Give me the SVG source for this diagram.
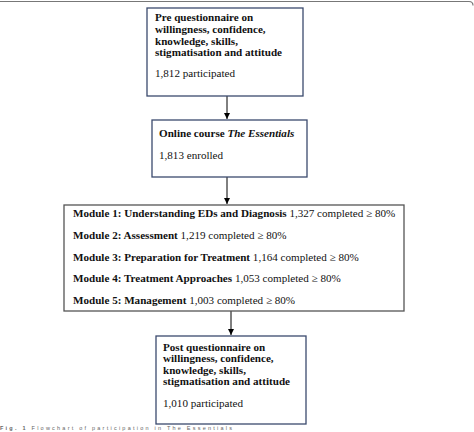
<svg xmlns="http://www.w3.org/2000/svg" width="474" height="432" viewBox="0 0 474 432">
<style>
.t{font-family:"Liberation Serif","Times New Roman",serif;font-size:11.1px;fill:#111}
.b{font-weight:bold}
.box{fill:#fff;stroke:#3b4a6e;stroke-width:1.3}
.box3{fill:#fff;stroke:#555;stroke-width:1.3}
.con{stroke:#000;stroke-width:1;fill:none}
.cap{font-family:"Liberation Sans",Arial,sans-serif;font-size:5.5px;fill:#666}
</style>
<defs>
<marker id="ah" viewBox="0 0 8 8" refX="8" refY="4" markerWidth="6" markerHeight="6" orient="auto" markerUnits="userSpaceOnUse">
<path d="M0,0 L8,4 L0,8 Z" fill="#000"/>
</marker>
</defs>
<path d="M0,1.5 H469 Q473,1.5 473,5.5" fill="none" stroke="#777" stroke-width="1.2"/>
<g id="connectors">
<line class="con" x1="227" y1="96" x2="227" y2="119" marker-end="url(#ah)"/>
<line class="con" x1="227" y1="177" x2="227" y2="204" marker-end="url(#ah)"/>
<line class="con" x1="231" y1="311" x2="231" y2="335" marker-end="url(#ah)"/>
</g>
<g id="pre">
<rect class="box" x="147" y="8" width="156" height="88"/>
<text class="t b" x="155" y="21">Pre questionnaire on</text>
<text class="t b" x="155" y="33">willingness, confidence,</text>
<text class="t b" x="155" y="44.5">knowledge, skills,</text>
<text class="t b" x="155" y="56">stigmatisation and attitude</text>
<text class="t" x="155" y="77">1,812 participated</text>
</g>
<g id="course">
<rect class="box" x="152" y="120" width="155" height="57"/>
<text class="t" x="159" y="137"><tspan class="b">Online course </tspan><tspan class="b" font-style="italic">The Essentials</tspan></text>
<text class="t" x="159" y="159">1,813 enrolled</text>
</g>
<g id="modules">
<rect class="box3" x="64" y="205" width="340" height="106"/>
<text class="t" x="73" y="217"><tspan class="b">Module 1: Understanding EDs and Diagnosis</tspan> 1,327 completed ≥ 80%</text>
<text class="t" x="73" y="239"><tspan class="b">Module 2: Assessment</tspan> 1,219 completed ≥ 80%</text>
<text class="t" x="73" y="260.5"><tspan class="b">Module 3: Preparation for Treatment</tspan> 1,164 completed ≥ 80%</text>
<text class="t" x="73" y="282"><tspan class="b">Module 4: Treatment Approaches</tspan> 1,053 completed ≥ 80%</text>
<text class="t" x="73" y="304"><tspan class="b">Module 5: Management</tspan> 1,003 completed ≥ 80%</text>
</g>
<g id="post">
<rect class="box" x="156" y="336" width="150" height="88"/>
<text class="t b" x="163" y="350.5">Post questionnaire on</text>
<text class="t b" x="163" y="362">willingness, confidence,</text>
<text class="t b" x="163" y="373.5">knowledge, skills,</text>
<text class="t b" x="163" y="385">stigmatisation and attitude</text>
<text class="t" x="163" y="407">1,010 participated</text>
</g>
<text class="cap" x="0" y="430" textLength="232" lengthAdjust="spacing"><tspan font-weight="bold">Fig. 1</tspan> Flowchart of participation in The Essentials</text>
</svg>
